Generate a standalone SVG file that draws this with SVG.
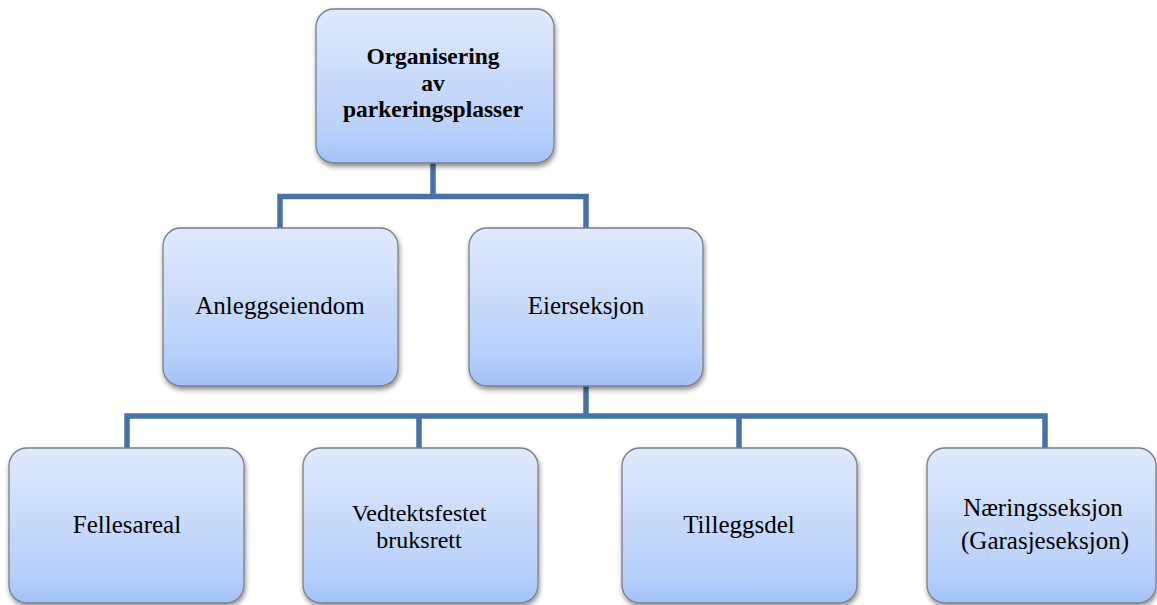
<svg xmlns="http://www.w3.org/2000/svg" width="1157" height="605" viewBox="0 0 1157 605">
  <defs>
    <linearGradient id="g" x1="0" y1="0" x2="0" y2="1">
      <stop offset="0" stop-color="#e0eafc"/>
      <stop offset="0.8" stop-color="#b8d0fa"/>
      <stop offset="1" stop-color="#a2c1f8"/>
    </linearGradient>
    <filter id="sh" x="-10%" y="-10%" width="125%" height="130%">
      <feGaussianBlur in="SourceAlpha" stdDeviation="2.5"/>
      <feOffset dx="1" dy="3" result="b"/>
      <feComponentTransfer><feFuncA type="linear" slope="0.45"/></feComponentTransfer>
      <feMerge><feMergeNode/><feMergeNode in="SourceGraphic"/></feMerge>
    </filter>
  </defs>
  <style>
    .box { fill: url(#g); stroke: #7a7f88; stroke-width: 1.3; filter: url(#sh); }
    .t { font-family: "Liberation Serif", "Times New Roman", serif; font-size: 25px; fill: #000; text-anchor: middle; }
    .b { font-weight: bold; font-size: 23.5px; }
    .m { font-size: 24px; }
    .c { fill: none; stroke: #4672a8; stroke-width: 5.5; stroke-linejoin: miter; }
  </style>
  <rect width="1157" height="605" fill="#ffffff"/>
  <g id="connectors">
    <path class="c" d="M433,163 V196.5"/>
    <path class="c" d="M280,228 V196.5 H586 V228"/>
    <path class="c" d="M586,386 V416"/>
    <path class="c" d="M127,448 V416 H1045 V448"/>
    <path class="c" d="M419,416 V448"/>
    <path class="c" d="M739,416 V448"/>
  </g>
  <g id="root">
    <rect class="box" x="316" y="9" width="238" height="154" rx="18"/>
    <text class="t b"><tspan x="433" y="64">Organisering</tspan><tspan x="433" y="90.5">av</tspan><tspan x="433" y="117">parkeringsplasser</tspan></text>
  </g>
  <g id="anleggseiendom">
    <rect class="box" x="163" y="228" width="235" height="158" rx="18"/>
    <text class="t" x="280" y="314">Anleggseiendom</text>
  </g>
  <g id="eierseksjon">
    <rect class="box" x="469" y="228" width="234" height="158" rx="18"/>
    <text class="t" x="586" y="314">Eierseksjon</text>
  </g>
  <g id="fellesareal">
    <rect class="box" x="9" y="448" width="235" height="155" rx="18"/>
    <text class="t" x="127" y="533">Fellesareal</text>
  </g>
  <g id="vedtektsfestet">
    <rect class="box" x="303" y="448" width="235" height="155" rx="18"/>
    <text class="t m"><tspan x="419" y="520.5">Vedtektsfestet</tspan><tspan x="419" y="547.5">bruksrett</tspan></text>
  </g>
  <g id="tilleggsdel">
    <rect class="box" x="622" y="448" width="235" height="155" rx="18"/>
    <text class="t" x="739" y="533">Tilleggsdel</text>
  </g>
  <g id="naeringsseksjon">
    <rect class="box" x="927" y="448" width="229" height="155" rx="18"/>
    <text class="t"><tspan x="1043" y="516">Næringsseksjon</tspan><tspan x="1045" y="549">(Garasjeseksjon)</tspan></text>
  </g>
</svg>
